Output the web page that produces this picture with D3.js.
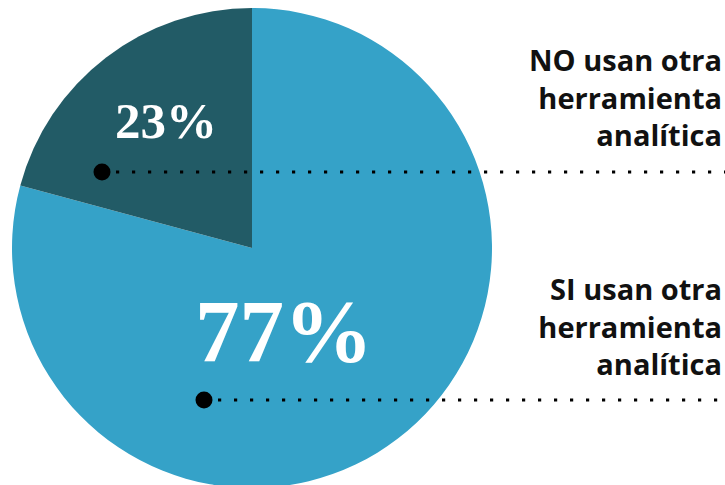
<!DOCTYPE html>
<html><head><meta charset="utf-8">
<script src="https://cdn.jsdelivr.net/npm/d3@7"></script>
<style>body{margin:0;background:#fff;}svg{display:block;}</style>
</head><body>
<svg id="chart" width="725" height="485"></svg>
<script>
// Data
const categories = ["SI usan otra herramienta analítica", "NO usan otra herramienta analítica"];
const percentLabels = ["77%", "23%"];
// slice shares as drawn in the picture (angle measured)
const sliceShares = [79.2, 20.8];
const labelLines = [["SI usan otra", "herramienta", "analítica"], ["NO usan otra", "herramienta", "analítica"]];
const colors = ["#35A2C8", "#225B66"];

const svg = d3.select("#chart");
const cx = 252, cy = 248, r = 240;
const g = svg.append("g").attr("transform", `translate(${cx},${cy})`);

const pie = d3.pie().sort(null).value(d => d)(sliceShares);
const arc = d3.arc().innerRadius(0).outerRadius(r);
g.selectAll("path").data(pie).join("path")
  .attr("d", arc).attr("fill", (d, i) => colors[i]);

// percentage labels
const pctPos = [{x: 284, y: 361, size: 89}, {x: 166, y: 138, size: 51}];
svg.selectAll("text.pct").data(percentLabels).join("text")
  .attr("class", "pct")
  .attr("x", (d, i) => pctPos[i].x).attr("y", (d, i) => pctPos[i].y)
  .attr("text-anchor", "middle")
  .attr("font-family", "'Liberation Serif', 'DejaVu Serif', serif")
  .attr("font-weight", "bold")
  .attr("font-size", (d, i) => pctPos[i].size)
  .attr("fill", "#fff")
  .text(d => d);

// leader dots and dotted lines
const leaders = [{x: 204, y: 400}, {x: 102, y: 172}];
leaders.forEach(p => {
  svg.append("line").attr("x1", p.x + 14).attr("x2", 725).attr("y1", p.y).attr("y2", p.y)
    .attr("stroke", "#000").attr("stroke-width", 3.2).attr("stroke-dasharray", "3.2,12.8");
  svg.append("circle").attr("cx", p.x).attr("cy", p.y).attr("r", 8.5).attr("fill", "#000");
});

// category labels
const labelBase = [300, 71];
labelLines.forEach((lines, i) => {
  const t = svg.append("text")
    .attr("text-anchor", "end")
    .attr("font-family", "'Open Sans', Lato, sans-serif")
    .attr("font-weight", "bold")
    .attr("font-size", 29)
    .attr("fill", "#111");
  lines.forEach((l, j) => {
    t.append("tspan").attr("x", 722).attr("y", labelBase[i] + j * 37.5).text(l);
  });
});
</script>
</body></html>
